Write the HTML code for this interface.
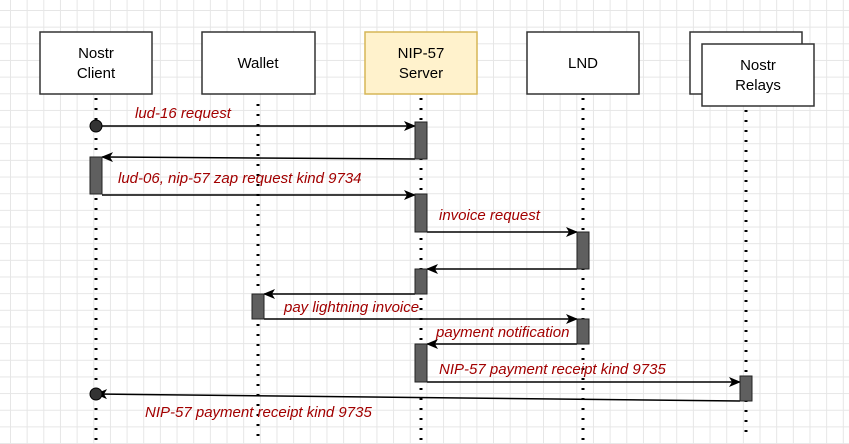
<!DOCTYPE html>
<html><head><meta charset="utf-8"><style>
html,body{margin:0;padding:0;}
body{width:849px;height:444px;overflow:hidden;background-color:#fff;
background-image:linear-gradient(to right,#e6e6e6 1px,transparent 1px),linear-gradient(to bottom,#e6e6e6 1px,transparent 1px);
background-size:16.67px 16.67px;background-position:10px 10px;}
svg{position:absolute;left:0;top:0;}
text{font-family:"Liberation Sans",sans-serif;}
.lbl{font-style:italic;fill:#a20000;font-size:15px;}
</style></head><body>
<svg width="849" height="444" viewBox="0 0 849 444">
<defs><marker id="a" markerWidth="12" markerHeight="10" refX="11" refY="5" orient="auto" markerUnits="userSpaceOnUse"><path d="M0,0 L12,5 L0,10 L3,5 z" fill="#000"/></marker></defs>
<g stroke="#000" stroke-width="3" stroke-dasharray="2,8">
<line x1="96" y1="98" x2="96" y2="440"/>
<line x1="258" y1="104" x2="258" y2="440"/>
<line x1="421" y1="98" x2="421" y2="440"/>
<line x1="583" y1="98" x2="583" y2="440"/>
<line x1="746" y1="110" x2="746" y2="440"/>
</g>
<g stroke="#333" stroke-width="1.5" fill="#fff">
<rect x="40" y="32" width="112" height="62"/>
<rect x="202" y="32" width="113" height="62"/>
<rect x="365" y="32" width="112" height="62" fill="#fff2cc" stroke="#d6b656"/>
<rect x="527" y="32" width="112" height="62"/>
<rect x="690" y="32" width="112" height="62"/>
<rect x="702" y="44" width="112" height="62"/>
</g>
<g font-size="15" fill="#000" text-anchor="middle">
<text x="96" y="58">Nostr</text><text x="96" y="78">Client</text>
<text x="258" y="68">Wallet</text>
<text x="421" y="58">NIP-57</text><text x="421" y="78">Server</text>
<text x="583" y="68">LND</text>
<text x="758" y="70">Nostr</text><text x="758" y="90">Relays</text>
</g>
<g stroke="#000" stroke-width="1.5" fill="none" marker-end="url(#a)">
<line x1="96" y1="126" x2="415" y2="126"/>
<line x1="415" y1="159" x2="102" y2="157"/>
<line x1="102" y1="195" x2="415" y2="195"/>
<line x1="427" y1="232" x2="577" y2="232"/>
<line x1="577" y1="269" x2="427" y2="269"/>
<line x1="415" y1="294" x2="264" y2="294"/>
<line x1="264" y1="319" x2="577" y2="319"/>
<line x1="577" y1="344" x2="427" y2="344"/>
<line x1="427" y1="382" x2="740" y2="382"/>
<line x1="740" y1="401" x2="96" y2="394"/>
</g>
<g fill="#5f5f5f" stroke="#222" stroke-width="1">
<rect x="415" y="122" width="12" height="37"/>
<rect x="90" y="157" width="12" height="37"/>
<rect x="415" y="194" width="12" height="38"/>
<rect x="577" y="232" width="12" height="37"/>
<rect x="415" y="269" width="12" height="25"/>
<rect x="252" y="294" width="12" height="25"/>
<rect x="577" y="319" width="12" height="25"/>
<rect x="415" y="344" width="12" height="38"/>
<rect x="740" y="376" width="12" height="25"/>
</g>
<circle cx="96" cy="126" r="6" fill="#333" stroke="#000"/>
<circle cx="96" cy="394" r="6" fill="#333" stroke="#000"/>
<text class="lbl" x="135" y="118">lud-16 request</text>
<text class="lbl" x="118" y="183">lud-06, nip-57 zap request kind 9734</text>
<text class="lbl" x="439" y="220">invoice request</text>
<text class="lbl" x="284" y="312">pay lightning invoice</text>
<text class="lbl" x="436" y="337">payment notification</text>
<text class="lbl" x="439" y="374">NIP-57 payment receipt kind 9735</text>
<text class="lbl" x="145" y="417">NIP-57 payment receipt kind 9735</text>
</svg>
</body></html>
